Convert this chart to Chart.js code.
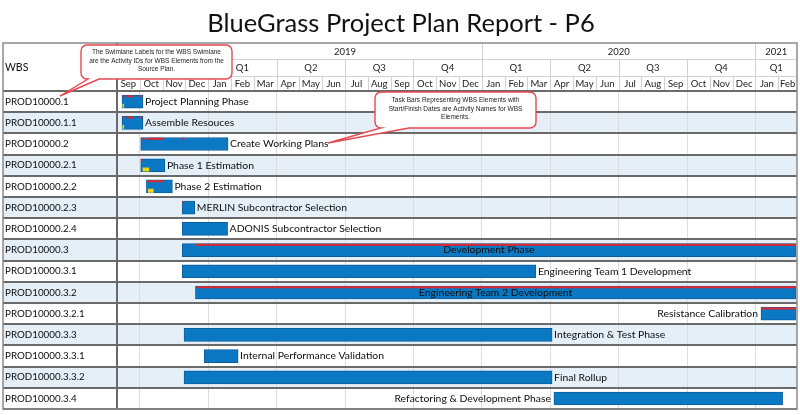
<!DOCTYPE html>
<html>
<head>
<meta charset="utf-8">
<script src="https://cdn.jsdelivr.net/npm/chart.js@4.4.1/dist/chart.umd.min.js"></script>
<style>
  html, body { margin: 0; padding: 0; background: #fff; }
  #wrap { width: 800px; height: 415px; }
</style>
</head>
<body>
<div id="wrap"><canvas id="gantt"></canvas></div>
<script>
// Swimlanes (WBS ids) and their task bars. Time unit = months, 0 = start of Sep 2018
const wbs = ['PROD10000.1', 'PROD10000.1.1', 'PROD10000.2', 'PROD10000.2.1', 'PROD10000.2.2',
  'PROD10000.2.3', 'PROD10000.2.4', 'PROD10000.3', 'PROD10000.3.1', 'PROD10000.3.2',
  'PROD10000.3.2.1', 'PROD10000.3.3', 'PROD10000.3.3.1', 'PROD10000.3.3.2', 'PROD10000.3.4'];
const taskNames = ['Project Planning Phase', 'Assemble Resouces', 'Create Working Plans', 'Phase 1 Estimation',
  'Phase 2 Estimation', 'MERLIN Subcontractor Selection', 'ADONIS Subcontractor Selection', 'Development Phase',
  'Engineering Team 1 Development', 'Engineering Team 2 Development', 'Resistance Calibration',
  'Integration & Test Phase', 'Internal Performance Validation', 'Final Rollup', 'Refactoring & Development Phase'];
const taskStart = [0.22, 0.22, 1.04, 1.04, 1.29, 2.86, 2.86, 2.86, 2.86, 3.44, 28.24, 2.94, 3.82, 2.94, 19.16];
const taskEnd = [1.14, 1.14, 4.87, 2.10, 2.43, 3.41, 4.85, 29.76, 18.37, 29.76, 29.76, 19.08, 5.31, 19.08, 29.19];
const labelSide = ['right', 'right', 'right', 'right', 'right', 'right', 'right', 'inside',
  'right', 'inside', 'left', 'right', 'right', 'right', 'left'];

// red critical marks along the top of bars
const critRow = [0, 0, 0, 1, 1, 1, 2, 2, 2, 3, 4, 5, 7, 9, 10];
const critStart = [0.27, 0.46, 1.00, 0.27, 0.46, 1.00, 1.10, 1.34, 2.87, 1.07, 1.34, 2.86, 3.42, 3.49, 28.27];
const critEnd = [0.36, 0.71, 1.10, 0.36, 0.71, 1.10, 1.22, 2.02, 2.97, 1.14, 2.02, 2.93, 29.74, 29.74, 29.74];

// yellow progress marks at the bottom-left of bars
const progRow = [0, 1, 3, 4];
const progStart = [0.24, 0.24, 1.12, 1.36];
const progEnd = [0.31, 0.31, 1.41, 1.61];

// timeline header
const months = ['Sep', 'Oct', 'Nov', 'Dec',
  'Jan', 'Feb', 'Mar', 'Apr', 'May', 'Jun', 'Jul', 'Aug', 'Sep', 'Oct', 'Nov', 'Dec',
  'Jan', 'Feb', 'Mar', 'Apr', 'May', 'Jun', 'Jul', 'Aug', 'Sep', 'Oct', 'Nov', 'Dec',
  'Jan', 'Feb'];
const quarterLabels = ['Q3', 'Q4', 'Q1', 'Q2', 'Q3', 'Q4', 'Q1', 'Q2', 'Q3', 'Q4', 'Q1'];
const quarterStart = [0, 1, 4, 7, 10, 13, 16, 19, 22, 25, 28];
const yearLabels = ['2018', '2019', '2020', '2021'];
const yearStart = [0, 4, 16, 28];
const timelineEnd = 29.82;

const callouts = [
  { lines: ['The Swimlane Labels for the WBS Swimlane', 'are the Activity IDs for WBS Elements from the', 'Source Plan.'],
    box: [81, 45, 151, 34], tail: [88, 99], tip: [60, 96] },
  { lines: ['Task Bars Representing WBS Elements with', 'Start/Finish Dates are Activity Names for WBS', 'Elements.'],
    box: [375, 92, 161, 36], tail: [381, 409], tip: [328, 143] }
];

const FONT = 'Lato';
const TEXT = '#0d0d0d';
const BAR_BLUE = '#0a78c2';
const BAND = '#e4eff8';
const RED_SHIFT = -0.25;    // rows, top edge of a bar
const PROG_SHIFT = 0.2;     // rows, bottom edge of a bar

// short line segments, broken by null points
function segments(rows, starts, ends, shift) {
  const pts = [];
  rows.forEach((r, k) => {
    pts.push({ x: starts[k], y: r + shift }, { x: ends[k], y: r + shift }, { x: null, y: null });
  });
  return pts;
}

const ganttDecor = {
  id: 'ganttDecor',
  beforeDraw(chart) {
    const { ctx, chartArea: a, scales: { y } } = chart;
    const h = y.getPixelForValue(1) - y.getPixelForValue(0);
    ctx.save();
    ctx.fillStyle = '#fff';
    ctx.fillRect(0, 0, chart.width, chart.height);
    ctx.fillStyle = BAND;
    wbs.forEach((w, i) => {
      if (i % 2 === 1) {
        const c = y.getPixelForValue(i);
        ctx.fillRect(3, c - h / 2, a.right - 3, h);
      }
    });
    ctx.restore();
  },
  afterDatasetsDraw(chart) {
    const { ctx } = chart;
    const meta = chart.getDatasetMeta(2);
    ctx.save();
    ctx.font = '10.4px ' + FONT;
    ctx.fillStyle = TEXT;
    ctx.textBaseline = 'middle';
    meta.data.forEach((bar, i) => {
      const side = labelSide[i];
      const lo = Math.min(bar.x, bar.base), hi = Math.max(bar.x, bar.base);
      if (side === 'right') { ctx.textAlign = 'left'; ctx.fillText(taskNames[i], hi + 2, bar.y); }
      else if (side === 'left') { ctx.textAlign = 'right'; ctx.fillText(taskNames[i], lo - 3, bar.y); }
      else { ctx.textAlign = 'center'; ctx.fillText(taskNames[i], (lo + hi) / 2, bar.y); }
    });
    ctx.restore();
  },
  afterDraw(chart) {
    const { ctx, chartArea: a, scales: { x } } = chart;
    const L = 3, R = a.right, T = 43, Y1 = 59, Y2 = 76, B = a.top;
    const px = v => Math.min(Math.max(x.getPixelForValue(v), a.left), R);
    ctx.save();
    ctx.fillStyle = '#fff';
    ctx.fillRect(L, T, R - L, B - T);

    ctx.font = '10.5px ' + FONT;
    ctx.fillStyle = TEXT;
    ctx.textBaseline = 'middle';
    ctx.textAlign = 'left';
    ctx.fillText('WBS', 5, 68);

    ctx.save();
    ctx.beginPath();
    ctx.rect(a.left, T, R - a.left, B - T);
    ctx.clip();
    ctx.strokeStyle = '#d2d2d2';
    ctx.lineWidth = 1;
    ctx.font = '9.5px ' + FONT;
    ctx.fillStyle = '#222';
    ctx.textAlign = 'center';
    const vline = (xp, y0, y1) => {
      ctx.beginPath(); ctx.moveTo(Math.round(xp) + 0.5, y0); ctx.lineTo(Math.round(xp) + 0.5, y1); ctx.stroke();
    };
    months.forEach((m, i) => {
      const p0 = px(i), p1 = px(i + 1);
      if (i > 0) vline(p0, Y2, B);
      ctx.fillText(m, (p0 + p1) / 2, (Y2 + B) / 2 + 0.5);
    });
    quarterLabels.forEach((q, i) => {
      const p0 = px(quarterStart[i]);
      const p1 = px(i + 1 < quarterStart.length ? quarterStart[i + 1] : timelineEnd);
      if (i > 0) vline(p0, Y1, B);
      ctx.fillText(q, (p0 + p1) / 2, (Y1 + Y2) / 2 + 0.5);
    });
    yearLabels.forEach((yl, i) => {
      const p0 = px(yearStart[i]);
      const p1 = px(i + 1 < yearStart.length ? yearStart[i + 1] : timelineEnd);
      if (i > 0) vline(p0, T, B);
      ctx.fillText(yl, (p0 + p1) / 2, (T + Y1) / 2 + 0.5);
    });
    ctx.beginPath();
    ctx.moveTo(a.left, Y1 + 0.5); ctx.lineTo(R, Y1 + 0.5);
    ctx.moveTo(a.left, Y2 + 0.5); ctx.lineTo(R, Y2 + 0.5);
    ctx.stroke();
    ctx.restore();

    // frame
    ctx.strokeStyle = '#6a6a6a';
    ctx.lineWidth = 2;
    ctx.beginPath();
    ctx.moveTo(a.left, T); ctx.lineTo(a.left, a.bottom);
    ctx.moveTo(L, B); ctx.lineTo(R, B);
    ctx.stroke();
    ctx.strokeStyle = '#8a8a8a';
    ctx.lineWidth = 1.5;
    ctx.strokeRect(L, T, R - L, a.bottom - T);

    // callouts
    callouts.forEach(c => {
      const [bx, by, bw, bh] = c.box, r = 6;
      ctx.beginPath();
      ctx.moveTo(bx + r, by);
      ctx.arcTo(bx + bw, by, bx + bw, by + bh, r);
      ctx.arcTo(bx + bw, by + bh, bx, by + bh, r);
      ctx.lineTo(c.tail[1], by + bh);
      ctx.lineTo(c.tip[0], c.tip[1]);
      ctx.lineTo(c.tail[0], by + bh);
      ctx.arcTo(bx, by + bh, bx, by, r);
      ctx.arcTo(bx, by, bx + bw, by, r);
      ctx.closePath();
      ctx.fillStyle = '#fff';
      ctx.fill();
      ctx.strokeStyle = '#e5484d';
      ctx.lineWidth = 1.4;
      ctx.stroke();
      ctx.fillStyle = '#222';
      ctx.font = '6.5px "Liberation Sans"';
      ctx.textAlign = 'center';
      ctx.textBaseline = 'middle';
      const lh = 8.4;
      const y0 = by + bh / 2 - lh * (c.lines.length - 1) / 2 - 1;
      c.lines.forEach((t, k) => ctx.fillText(t, bx + bw / 2, y0 + k * lh));
    });
    ctx.restore();
  }
};

new Chart(document.getElementById('gantt'), {
  type: 'bar',
  data: {
    labels: wbs,
    datasets: [
      {
        type: 'line',
        label: 'Critical',
        yAxisID: 'yMarks',
        data: segments(critRow, critStart, critEnd, RED_SHIFT),
        borderColor: '#e3242b',
        borderWidth: 2,
        pointRadius: 0,
        spanGaps: false,
        order: 1
      },
      {
        type: 'line',
        label: 'Progress',
        yAxisID: 'yMarks',
        data: segments(progRow, progStart, progEnd, PROG_SHIFT),
        borderColor: '#f2d21b',
        borderWidth: 4,
        pointRadius: 0,
        spanGaps: false,
        order: 2
      },
      {
        label: 'Tasks',
        yAxisID: 'y',
        data: taskStart.map((s, i) => [s, taskEnd[i]]),
        backgroundColor: BAR_BLUE,
        borderColor: '#0c5f9c',
        borderWidth: 1,
        borderSkipped: false,
        barThickness: 13,
        grouped: false,
        order: 3
      }
    ]
  },
  options: {
    indexAxis: 'y',
    responsive: true,
    maintainAspectRatio: false,
    animation: false,
    layout: { padding: { left: 5, right: 3, top: 0, bottom: 4 } },
    plugins: {
      legend: { display: false },
      tooltip: { enabled: false },
      title: {
        display: true,
        text: 'BlueGrass Project Plan Report - P6',
        color: '#111',
        font: { family: FONT, size: 25.5, weight: 'normal', lineHeight: 1.2 },
        padding: { top: 8, bottom: 4.4 }
      }
    },
    scales: {
      x: {
        type: 'linear',
        position: 'top',
        min: 0,
        max: timelineEnd,
        afterBuildTicks: s => { s.ticks = quarterStart.slice(1).map(v => ({ value: v })); },
        afterFit: s => { s.height = 48; },
        ticks: { display: false },
        grid: { color: '#dcdcdc', drawTicks: false },
        border: { display: false }
      },
      y: {
        position: 'left',
        afterFit: s => { s.width = 112; },
        ticks: { crossAlign: 'far', color: TEXT, font: { family: FONT, size: 9.8 }, padding: 0 },
        grid: { color: '#6a6a6a', lineWidth: 2, tickLength: 114, offset: true },
        border: { display: false }
      },
      yMarks: {
        axis: 'y', type: 'linear', display: false, offset: false,
        min: -0.5, max: 14.5, reverse: true
      }
    }
  },
  plugins: [ganttDecor]
});
</script>
</body>
</html>
